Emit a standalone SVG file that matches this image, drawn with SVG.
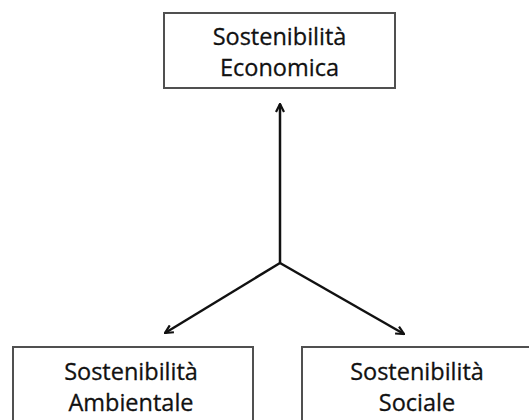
<svg xmlns="http://www.w3.org/2000/svg" width="529" height="420" viewBox="0 0 529 420">
<defs>
<style>
.box{fill:#fff;stroke:#505050;stroke-width:2}
.lbl{font-family:"Open Sans","Liberation Sans",sans-serif;font-size:23.5px;fill:#111;stroke:#111;stroke-width:0.3;text-anchor:middle}
.conn{stroke:#111;stroke-width:2.5;fill:none}
</style>
<marker id="ah" viewBox="0 0 10 10" refX="9" refY="5" markerWidth="4" markerHeight="4" orient="auto" markerUnits="strokeWidth">
<path d="M1,1 L9,5 L1,9" fill="none" stroke="#111" stroke-width="2.2" stroke-linejoin="miter"/>
</marker>
</defs>
<rect width="529" height="420" fill="#fff"/>
<g id="connectors">
<line class="conn" x1="280" y1="264" x2="280" y2="104" marker-end="url(#ah)"/>
<line class="conn" x1="280" y1="263" x2="165" y2="333" marker-end="url(#ah)"/>
<line class="conn" x1="280" y1="263" x2="404" y2="334" marker-end="url(#ah)"/>
</g>
<g id="economica">
<rect class="box" x="164" y="13" width="231" height="75"/>
<text class="lbl" x="279.5" y="45">Sostenibilità</text>
<text class="lbl" x="279.5" y="76">Economica</text>
</g>
<g id="ambientale">
<rect class="box" x="13" y="347" width="240" height="90"/>
<text class="lbl" x="131" y="380">Sostenibilità</text>
<text class="lbl" x="131" y="411">Ambientale</text>
</g>
<g id="sociale">
<rect class="box" x="302" y="347" width="240" height="90"/>
<text class="lbl" x="417" y="380">Sostenibilità</text>
<text class="lbl" x="417" y="411">Sociale</text>
</g>
</svg>
